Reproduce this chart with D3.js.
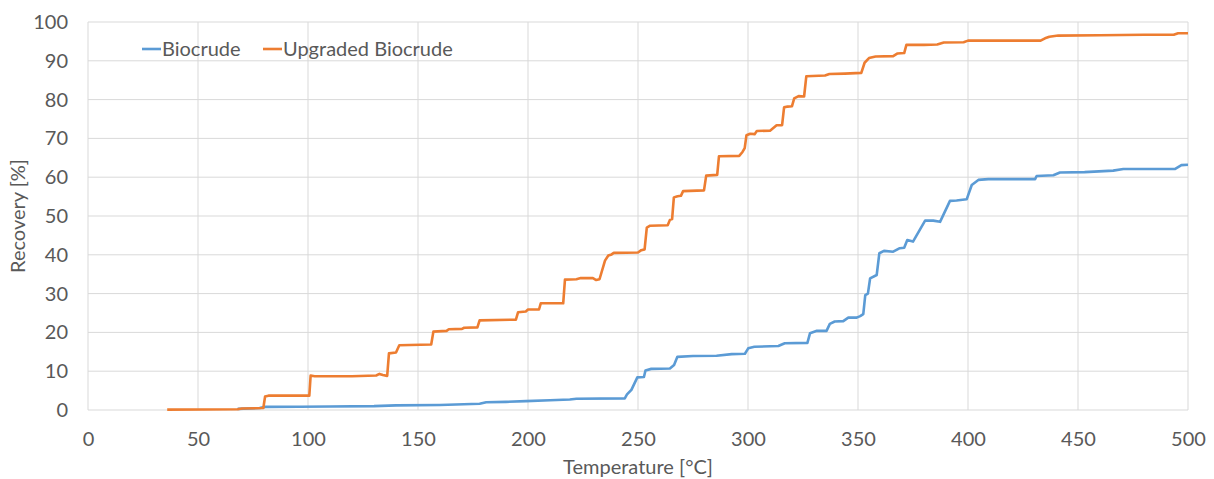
<!DOCTYPE html>
<html>
<head>
<meta charset="utf-8">
<script src="https://cdn.jsdelivr.net/npm/d3@7"></script>
<style>
  body { margin: 0; background: #fff; }
  text { font-family: Lato, "Open Sans", sans-serif; fill: #595959; }
</style>
</head>
<body>
<div id="chart"></div>
<script>
// temperature [°C], recovery [%]
var biocrude = [
  [68,0.3],[78,0.5],[80.5,0.8],[96,0.85],[110,0.9],[130,1.0],[140,1.2],[160,1.3],[178,1.6],[181,2.0],
  [190,2.1],[199,2.3],[210,2.5],[219,2.7],[222,2.9],[244,3.0],[245,4.0],[247,5.2],[249.7,8.4],[252.7,8.5],
  [253.4,10.2],[256,10.6],[264.5,10.7],[266.4,11.6],[267.9,13.7],[275,13.9],[285.7,14.0],[292.6,14.4],
  [298.6,14.5],[300.1,15.9],[302.9,16.3],[313.8,16.5],[316.7,17.2],[327,17.3],[328.2,19.8],[331.3,20.4],
  [335.7,20.4],[337.2,22.2],[339.4,22.8],[343.3,22.9],[345.6,23.8],[349.4,23.8],[351,24.2],[352.4,24.7],
  [353.3,29.6],[354.5,30],[355.5,33.9],[358.5,34.8],[359.7,40.4],[361.8,41],[366,40.8],[369,41.7],
  [371,41.8],[372.4,43.8],[375,43.4],[380.5,48.8],[384.2,48.8],[387.3,48.5],[391.8,53.9],[394.8,54.0],
  [399.4,54.3],[401.7,58.0],[404.7,59.3],[409.2,59.5],[430.5,59.5],[431.2,60.3],[438.8,60.5],[441.8,61.2],
  [453,61.3],[466,61.7],[470.6,62.1],[494,62.1],[497,63.1],[500,63.2]
];

var upgraded = [
  [36,0.1],[68,0.2],[70,0.4],[79.7,0.5],[80.5,3.5],[82,3.7],[100.6,3.7],[101.2,8.9],[103,8.7],[120,8.7],
  [131,8.9],[132.5,9.3],[134,9.0],[136,8.8],[136.8,14.6],[140,14.8],[141.5,16.7],[156,16.9],[157,20.2],
  [163,20.4],[164,20.8],[170,20.9],[171,21.2],[177,21.3],[178,23.1],[194.5,23.3],[195.5,25.2],[199,25.4],
  [200,25.9],[205,25.9],[205.8,27.5],[216,27.5],[216.8,33.6],[222,33.7],[224,34.0],[229.5,34.0],[231,33.5],
  [232.5,33.7],[235,38.5],[236.5,39.8],[238,40.1],[239,40.5],[250,40.6],[251.5,41.2],[253,41.4],[254,47.0],
  [255.5,47.5],[263.5,47.6],[264.5,49.0],[265.5,49.2],[266.3,54.8],[268,55.1],[269.5,55.2],[270.5,56.4],
  [280,56.6],[281,60.4],[286,60.6],[286.8,65.4],[296,65.5],[297.5,66.5],[298.5,67.5],[299.3,70.8],
  [301,71.2],[303,71.1],[304,71.9],[310,72.0],[313,73.4],[315.5,73.4],[316.4,78.0],[318,78.2],[320,78.3],
  [321,80.3],[323,80.9],[325.5,80.8],[326.5,86.0],[335,86.2],[337,86.6],[344,86.7],[351.5,86.9],[353,89.5],
  [355,90.7],[358,91.1],[366,91.2],[368,91.9],[371,92.0],[372,94.1],[380,94.1],[386,94.2],[389,94.7],
  [398,94.8],[400,95.2],[433,95.2],[435,95.8],[437,96.2],[441,96.5],[460,96.6],[480,96.7],[493.5,96.7],
  [495.5,97.1],[500,97.1]
];

var seriesNames = ['Biocrude', 'Upgraded Biocrude'];
var seriesColors = ['#5b9bd5', '#ed7d31'];
var xTicks = [0, 50, 100, 150, 200, 250, 300, 350, 400, 450, 500];
var yTicks = [0, 10, 20, 30, 40, 50, 60, 70, 80, 90, 100];

var width = 1214, height = 479;
var margin = {top: 22, right: 26, bottom: 69, left: 88};
var fontSize = '20px';

var svg = d3.select('#chart').append('svg')
  .attr('width', width)
  .attr('height', height);

var x = d3.scaleLinear().domain([0, 500]).range([margin.left, width - margin.right]);
var y = d3.scaleLinear().domain([0, 100]).range([height - margin.bottom, margin.top]);

// grid
svg.append('g').selectAll('line')
  .data(xTicks)
  .enter().append('line')
    .attr('x1', function(d) { return x(d); })
    .attr('x2', function(d) { return x(d); })
    .attr('y1', y(0))
    .attr('y2', y(100))
    .attr('stroke', '#d9d9d9')
    .attr('stroke-width', 1);

svg.append('g').selectAll('line')
  .data(yTicks)
  .enter().append('line')
    .attr('x1', x(0))
    .attr('x2', x(500))
    .attr('y1', function(d) { return y(d); })
    .attr('y2', function(d) { return y(d); })
    .attr('stroke', '#d9d9d9')
    .attr('stroke-width', 1);

// axes
var xAxis = svg.append('g')
  .attr('transform', 'translate(0,' + y(0) + ')')
  .call(d3.axisBottom(x).tickValues(xTicks).tickSize(0).tickPadding(22));
var yAxis = svg.append('g')
  .attr('transform', 'translate(' + x(0) + ',0)')
  .call(d3.axisLeft(y).tickValues(yTicks).tickSize(0).tickPadding(20));

[xAxis, yAxis].forEach(function(a) {
  a.select('.domain').remove();
  a.selectAll('text')
    .style('font-family', 'Lato, "Open Sans", sans-serif')
    .style('font-size', fontSize)
    .style('fill', '#595959');
});

svg.append('text')
  .attr('x', (x(0) + x(500)) / 2)
  .attr('y', 474)
  .attr('text-anchor', 'middle')
  .style('font-size', fontSize)
  .text('Temperature [°C]');

svg.append('text')
  .attr('transform', 'translate(25,' + ((y(0) + y(100)) / 2) + ') rotate(-90)')
  .attr('text-anchor', 'middle')
  .style('font-size', fontSize)
  .text('Recovery [%]');

// lines
var line = d3.line()
  .x(function(d) { return x(d[0]); })
  .y(function(d) { return y(d[1]); });

[biocrude, upgraded].forEach(function(s, i) {
  svg.append('path')
    .datum(s)
    .attr('d', line)
    .attr('fill', 'none')
    .attr('stroke', seriesColors[i])
    .attr('stroke-width', 2.6)
    .attr('stroke-linejoin', 'round');
});

// legend
var legendX = [142, 263];
var legend = svg.append('g').selectAll('g')
  .data(seriesNames)
  .enter().append('g')
    .attr('transform', function(d, i) { return 'translate(' + legendX[i] + ',49)'; });

legend.append('line')
  .attr('x1', 0).attr('x2', 19)
  .attr('stroke', function(d, i) { return seriesColors[i]; })
  .attr('stroke-width', 2.6);

legend.append('text')
  .attr('x', 20)
  .attr('dy', '0.35em')
  .style('font-size', fontSize)
  .text(function(d) { return d; });
</script>
</body>
</html>
